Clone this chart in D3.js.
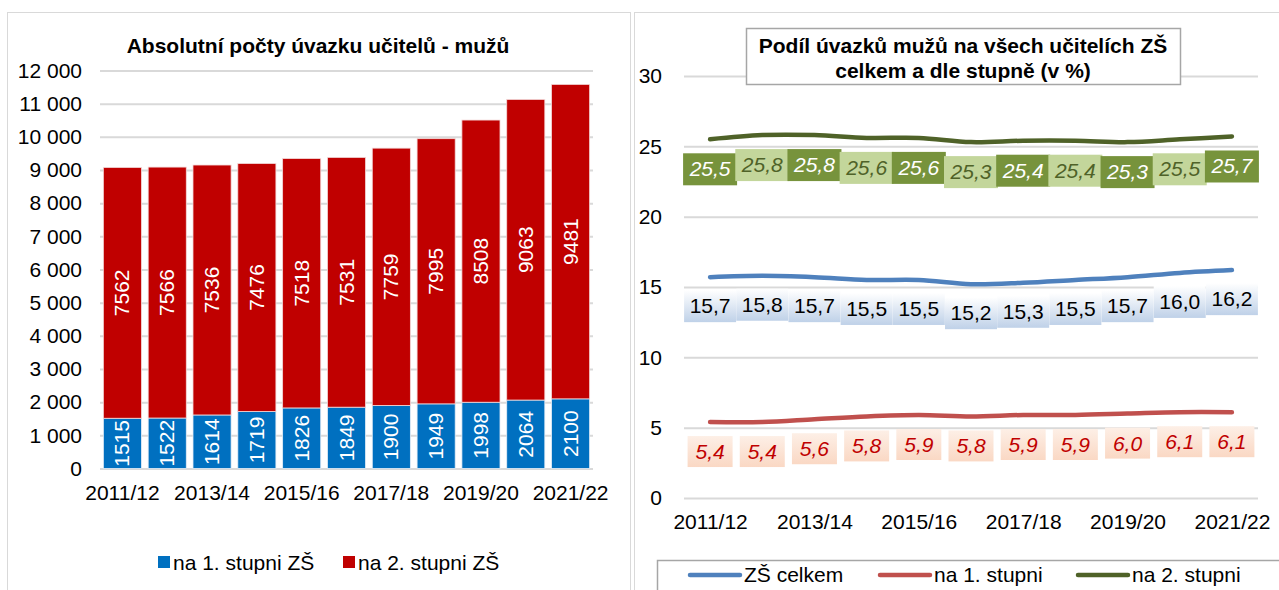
<!DOCTYPE html>
<html><head><meta charset="utf-8">
<script src="https://cdn.jsdelivr.net/npm/d3@7"></script>
<style>
html,body{margin:0;padding:0;background:#fff;}
svg{display:block;font-family:"Liberation Sans",Arial,sans-serif;}
</style></head>
<body>
<svg id="c" width="1279" height="590"></svg>
<script>
// ---- Left chart data ----
const years = ["2011/12","2012/13","2013/14","2014/15","2015/16","2016/17","2017/18","2018/19","2019/20","2020/21","2021/22"];
const stage1 = [1515,1522,1614,1719,1826,1849,1900,1949,1998,2064,2100];
const stage2 = [7562,7566,7536,7476,7518,7531,7759,7995,8508,9063,9481];
const leftTicks = [0,1000,2000,3000,4000,5000,6000,7000,8000,9000,10000,11000,12000];
const xTickLabels = ["2011/12","2013/14","2015/16","2017/18","2019/20","2021/22"];

// ---- Right chart data ----
const shareTotal = [15.7,15.8,15.7,15.5,15.5,15.2,15.3,15.5,15.7,16.0,16.2];
const share1 = [5.4,5.4,5.6,5.8,5.9,5.8,5.9,5.9,6.0,6.1,6.1];
const share2 = [25.5,25.8,25.8,25.6,25.6,25.3,25.4,25.4,25.3,25.5,25.7];
const rightTicks = [0,5,10,15,20,25,30];

const svg = d3.select("#c");
const FS = 21;
const FF = "Liberation Sans, Arial, sans-serif";
const fmtThousands = v => v === 0 ? "0" : d3.format(",")(v).replace(/,/g, "\u00a0");
const fmtPct = v => d3.format(".1f")(v).replace(".", ",");

// defs
const defs = svg.append("defs");
const gB = defs.append("linearGradient").attr("id","gBlue").attr("x1",0).attr("y1",0).attr("x2",0).attr("y2",1);
gB.append("stop").attr("offset","0%").attr("stop-color","#ffffff");
gB.append("stop").attr("offset","100%").attr("stop-color","#bfd1e8");
const gR = defs.append("linearGradient").attr("id","gRed").attr("x1",0).attr("y1",0).attr("x2",0).attr("y2",1);
gR.append("stop").attr("offset","0%").attr("stop-color","#fdefe6");
gR.append("stop").attr("offset","100%").attr("stop-color","#fad8c4");

// panel borders
svg.append("rect").attr("x",7.5).attr("y",12.5).attr("width",623).attr("height",600).attr("fill","none").attr("stroke","#d9d9d9");
svg.append("rect").attr("x",634.5).attr("y",12.5).attr("width",660).attr("height",600).attr("fill","none").attr("stroke","#d9d9d9");

// ================= LEFT CHART =================
const L = {x0:100, x1:593, yTop:70.5, yBot:468.5};
const xL = d3.scaleBand().domain(years).range([L.x0, L.x1]).paddingInner(0.15).paddingOuter(0.075);
const yL = d3.scaleLinear().domain([0,12000]).range([L.yBot, L.yTop]);
const gL = svg.append("g");

gL.append("text").attr("x",318).attr("y",53).attr("text-anchor","middle")
  .attr("font-size",FS).attr("font-weight","bold").attr("fill","#000")
  .text("Absolutní počty úvazku učitelů - mužů");

const yAxisL = d3.axisLeft(yL).tickValues(leftTicks).tickSize(-(L.x1-L.x0)).tickFormat(fmtThousands).tickPadding(18);
const ga = gL.append("g").attr("transform",`translate(${L.x0},0)`).call(yAxisL);
ga.select(".domain").remove();
ga.selectAll(".tick line").attr("stroke","#d9d9d9").attr("stroke-width",2);
ga.selectAll(".tick text").attr("font-size",FS).attr("fill","#000").attr("font-family",FF);

// bars
const barsG = gL.append("g");
years.forEach((yr,i) => {
  const x = xL(yr), w = xL.bandwidth();
  const b1 = stage1[i], b2 = stage2[i];
  barsG.append("rect").attr("x",x).attr("y",yL(b1)).attr("width",w).attr("height",yL(0)-yL(b1))
    .attr("fill","#0070c0").attr("stroke","#e6eef7").attr("stroke-width",0.8);
  barsG.append("rect").attr("x",x).attr("y",yL(b1+b2)).attr("width",w).attr("height",yL(b1)-yL(b1+b2))
    .attr("fill","#c00000").attr("stroke","#f3d9d9").attr("stroke-width",0.8);
  const cx = x + w/2;
  const c1 = (yL(0)+yL(b1))/2, c2 = (yL(b1)+yL(b1+b2))/2;
  barsG.append("text").attr("transform",`translate(${cx+7},${c1}) rotate(-90)`).attr("text-anchor","middle")
    .attr("font-size",FS).attr("fill","#fff").text(b1);
  barsG.append("text").attr("transform",`translate(${cx+7},${c2}) rotate(-90)`).attr("text-anchor","middle")
    .attr("font-size",FS).attr("fill","#fff").text(b2);
});

// x labels
const xAxisL = d3.axisBottom(xL).tickValues(xTickLabels).tickSize(0).tickPadding(17);
const gxa = gL.append("g").attr("transform",`translate(0,${L.yBot})`).call(xAxisL);
gxa.select(".domain").remove();
gxa.selectAll(".tick text").attr("font-size",FS).attr("fill","#000").attr("font-family",FF);

// legend left
const legL = [{t:"na 1. stupni ZŠ",c:"#0070c0",x:158},{t:"na 2. stupni ZŠ",c:"#c00000",x:343}];
legL.forEach(d=>{
  gL.append("rect").attr("x",d.x).attr("y",556).attr("width",12).attr("height",12).attr("fill",d.c);
  gL.append("text").attr("x",d.x+15).attr("y",570).attr("font-size",FS).attr("fill","#000").text(d.t);
});

// ================= RIGHT CHART =================
const R = {x0:684, x1:1258, yTop:76, yBot:498};
const xR = d3.scalePoint().domain(years).range([R.x0, R.x1]).padding(0.5);
const yR = d3.scaleLinear().domain([0,30]).range([R.yBot, R.yTop]);
const gRt = svg.append("g");

const yAxisR = d3.axisLeft(yR).tickValues(rightTicks).tickSize(-(R.x1-R.x0)).tickPadding(22);
const gra = gRt.append("g").attr("transform",`translate(${R.x0},0)`).call(yAxisR);
gra.select(".domain").remove();
gra.selectAll(".tick line").attr("stroke","#d9d9d9").attr("stroke-width",2);
gra.selectAll(".tick text").attr("font-size",FS).attr("fill","#000").attr("font-family",FF);

const xAxisR = d3.axisBottom(xR).tickValues(xTickLabels).tickSize(0).tickPadding(16);
const grx = gRt.append("g").attr("transform",`translate(0,${R.yBot})`).call(xAxisR);
grx.select(".domain").remove();
grx.selectAll(".tick text").attr("font-size",FS).attr("fill","#000").attr("font-family",FF);

const line = d3.line().x((d,i)=>xR(years[i])).y(d=>yR(d)).curve(d3.curveCatmullRom.alpha(0.5));
const series = [
  {v:shareTotal, c:"#4f81bd"},
  {v:share1, c:"#c0504d"},
  {v:share2, c:"#4f6228"}
];
series.forEach(s=>{
  gRt.append("path").attr("d",line(s.v)).attr("fill","none").attr("stroke",s.c)
    .attr("stroke-width",4.5).attr("stroke-linecap","round");
});

// green labels
share2.forEach((v,i)=>{
  const cx = xR(years[i]), cy = yR(v)+30;
  const dark = i%2===0;
  gRt.append("rect").attr("x",cx-27).attr("y",cy-16).attr("width",54).attr("height",32)
    .attr("fill", dark ? "#77933c" : "#c3d69b");
  gRt.append("text").attr("x",cx).attr("y",cy+7).attr("text-anchor","middle").attr("font-size",FS)
    .attr("font-style","italic").attr("fill", dark ? "#fff" : "#4f6228").text(fmtPct(v));
});
// blue labels
shareTotal.forEach((v,i)=>{
  const cx = xR(years[i]), cy = yR(v)+29;
  gRt.append("rect").attr("x",cx-26).attr("y",cy-16).attr("width",52).attr("height",32)
    .attr("fill","url(#gBlue)");
  gRt.append("text").attr("x",cx).attr("y",cy+7).attr("text-anchor","middle").attr("font-size",FS)
    .attr("fill","#000").text(fmtPct(v));
});
// red labels
share1.forEach((v,i)=>{
  const cx = xR(years[i]), cy = yR(v)+30;
  gRt.append("rect").attr("x",cx-22.5).attr("y",cy-16).attr("width",45).attr("height",31)
    .attr("fill","url(#gRed)");
  gRt.append("text").attr("x",cx).attr("y",cy+7).attr("text-anchor","middle").attr("font-size",FS)
    .attr("font-style","italic").attr("fill","#c00000").text(fmtPct(v));
});

// title box
gRt.append("rect").attr("x",746.5).attr("y",28.5).attr("width",434).attr("height",56)
  .attr("fill","#fff").attr("stroke","#a6a6a6").attr("stroke-width",1.5);
gRt.append("text").attr("x",963).attr("y",53).attr("text-anchor","middle").attr("font-size",FS)
  .attr("font-weight","bold").text("Podíl úvazků mužů na všech učitelích ZŠ");
gRt.append("text").attr("x",963).attr("y",78).attr("text-anchor","middle").attr("font-size",FS)
  .attr("font-weight","bold").text("celkem a dle stupně (v %)");

// legend right
gRt.append("rect").attr("x",657.5).attr("y",560.5).attr("width",630).attr("height",40)
  .attr("fill","#fff").attr("stroke","#a6a6a6").attr("stroke-width",1.5);
const legR = [{t:"ZŠ celkem",c:"#4f81bd",x:690},{t:"na 1. stupni",c:"#c0504d",x:880},{t:"na 2. stupni",c:"#4f6228",x:1078}];
legR.forEach(d=>{
  gRt.append("line").attr("x1",d.x).attr("x2",d.x+50).attr("y1",575).attr("y2",575)
    .attr("stroke",d.c).attr("stroke-width",4.5).attr("stroke-linecap","round");
  gRt.append("text").attr("x",d.x+54).attr("y",582).attr("font-size",FS).text(d.t);
});
</script>
</body></html>
